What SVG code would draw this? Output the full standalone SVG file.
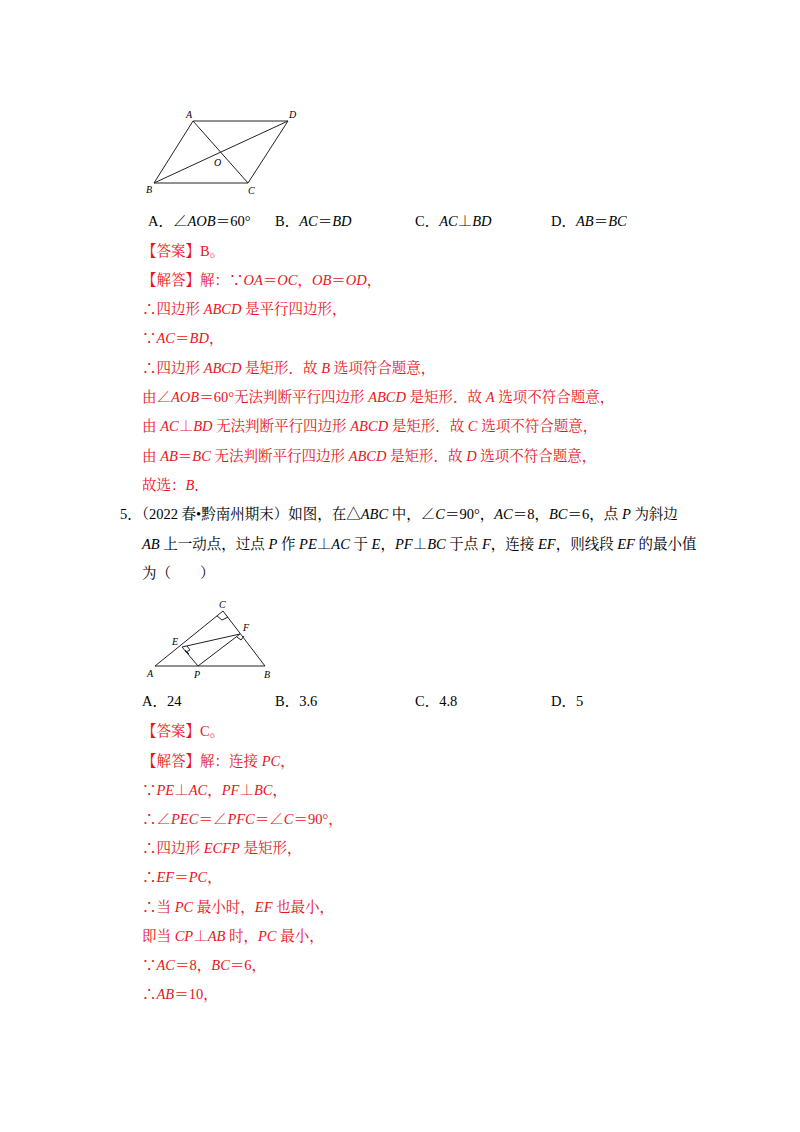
<svg xmlns="http://www.w3.org/2000/svg" width="800" height="1132" viewBox="0 0 800 1132">
<style>
text{font-family:"Liberation Serif","Noto Serif CJK SC","Noto Sans CJK SC",serif;font-size:14.5px;fill:#000}
.r{fill:#e8141c}
.l{font-size:10px;font-style:italic}
line,polyline,polygon{stroke:#222;stroke-width:1;fill:none}
</style>
<rect width="800" height="1132" fill="#fff"/>
<g id="fig1">
<polygon points="193,121 288,121 248,183 154,183"/>
<line x1="193" y1="121" x2="248" y2="183"/>
<line x1="154" y1="183" x2="288" y2="121"/>
<text class="l" x="186" y="118">A</text><text class="l" x="289" y="118">D</text>
<text class="l" x="146" y="193">B</text><text class="l" x="248" y="194">C</text>
<text class="l" x="214" y="166">O</text>
</g>
<g id="text1">
<text x="148" y="226">A．∠<tspan font-style="italic">AOB</tspan>＝60°</text>
<text x="275" y="226">B．<tspan font-style="italic">AC</tspan>＝<tspan font-style="italic">BD</tspan></text>
<text x="415" y="226">C．<tspan font-style="italic">AC</tspan>⊥<tspan font-style="italic">BD</tspan></text>
<text x="551" y="226">D．<tspan font-style="italic">AB</tspan>＝<tspan font-style="italic">BC</tspan></text>
<text class="r" x="142" y="256">【答案】B。</text>
<text class="r" x="142" y="285">【解答】解：∵<tspan font-style="italic">OA</tspan>＝<tspan font-style="italic">OC</tspan>，<tspan font-style="italic">OB</tspan>＝<tspan font-style="italic">OD</tspan>，</text>
<text class="r" x="142" y="314">∴四边形 <tspan font-style="italic">ABCD</tspan> 是平行四边形，</text>
<text class="r" x="142" y="343">∵<tspan font-style="italic">AC</tspan>＝<tspan font-style="italic">BD</tspan>，</text>
<text class="r" x="142" y="373">∴四边形 <tspan font-style="italic">ABCD</tspan> 是矩形．故 <tspan font-style="italic">B</tspan> 选项符合题意，</text>
<text class="r" x="142" y="402">由∠<tspan font-style="italic">AOB</tspan>＝60°无法判断平行四边形 <tspan font-style="italic">ABCD</tspan> 是矩形．故 <tspan font-style="italic">A</tspan> 选项不符合题意，</text>
<text class="r" x="142" y="431">由 <tspan font-style="italic">AC</tspan>⊥<tspan font-style="italic">BD</tspan> 无法判断平行四边形 <tspan font-style="italic">ABCD</tspan> 是矩形．故 <tspan font-style="italic">C</tspan> 选项不符合题意，</text>
<text class="r" x="142" y="461">由 <tspan font-style="italic">AB</tspan>＝<tspan font-style="italic">BC</tspan> 无法判断平行四边形 <tspan font-style="italic">ABCD</tspan> 是矩形．故 <tspan font-style="italic">D</tspan> 选项不符合题意，</text>
<text class="r" x="142" y="490">故选：<tspan font-style="italic">B</tspan>．</text>
<text x="120" y="519">5．（2022 春•黔南州期末）如图，在△<tspan font-style="italic">ABC</tspan> 中，∠<tspan font-style="italic">C</tspan>＝90°，<tspan font-style="italic">AC</tspan>＝8，<tspan font-style="italic">BC</tspan>＝6，点 <tspan font-style="italic">P</tspan> 为斜边</text>
<text x="142" y="549"><tspan font-style="italic">AB</tspan> 上一动点，过点 <tspan font-style="italic">P</tspan> 作 <tspan font-style="italic">PE</tspan>⊥<tspan font-style="italic">AC</tspan> 于 <tspan font-style="italic">E</tspan>，<tspan font-style="italic">PF</tspan>⊥<tspan font-style="italic">BC</tspan> 于点 <tspan font-style="italic">F</tspan>，连接 <tspan font-style="italic">EF</tspan>，则线段 <tspan font-style="italic">EF</tspan> 的最小值</text>
<text x="142" y="578">为（　　）</text>
</g>
<g id="fig2">
<polygon points="155,666 265,666 223,611"/>
<polyline points="182,647 198,666 240,634"/>
<line x1="182" y1="647" x2="240" y2="634"/>
<polyline points="217,616 222,620 228,617" stroke-width="0.8"/>
<polyline points="185,651 189,654 185,650" stroke-width="0.8"/>
<polyline points="186,652 190,650 187,646" stroke-width="0.8"/>
<polyline points="237,637 241,640 244,636" stroke-width="0.8"/>
<text class="l" x="172" y="645">E</text><text class="l" x="243" y="631">F</text>
<text class="l" x="219" y="608">C</text><text class="l" x="147" y="677">A</text>
<text class="l" x="194" y="678">P</text><text class="l" x="264" y="678">B</text>
</g>
<g id="text2">
<text x="142" y="706">A．24</text><text x="275" y="706">B．3.6</text>
<text x="415" y="706">C．4.8</text><text x="551" y="706">D．5</text>
<text class="r" x="142" y="736">【答案】C。</text>
<text class="r" x="142" y="766">【解答】解：连接 <tspan font-style="italic">PC</tspan>，</text>
<text class="r" x="142" y="795">∵<tspan font-style="italic">PE</tspan>⊥<tspan font-style="italic">AC</tspan>，<tspan font-style="italic">PF</tspan>⊥<tspan font-style="italic">BC</tspan>，</text>
<text class="r" x="142" y="824">∴∠<tspan font-style="italic">PEC</tspan>＝∠<tspan font-style="italic">PFC</tspan>＝∠<tspan font-style="italic">C</tspan>＝90°，</text>
<text class="r" x="142" y="853">∴四边形 <tspan font-style="italic">ECFP</tspan> 是矩形，</text>
<text class="r" x="142" y="882">∴<tspan font-style="italic">EF</tspan>＝<tspan font-style="italic">PC</tspan>，</text>
<text class="r" x="142" y="912">∴当 <tspan font-style="italic">PC</tspan> 最小时，<tspan font-style="italic">EF</tspan> 也最小，</text>
<text class="r" x="142" y="941">即当 <tspan font-style="italic">CP</tspan>⊥<tspan font-style="italic">AB</tspan> 时，<tspan font-style="italic">PC</tspan> 最小，</text>
<text class="r" x="142" y="970">∵<tspan font-style="italic">AC</tspan>＝8，<tspan font-style="italic">BC</tspan>＝6，</text>
<text class="r" x="142" y="999">∴<tspan font-style="italic">AB</tspan>＝10，</text>
</g>
</svg>
